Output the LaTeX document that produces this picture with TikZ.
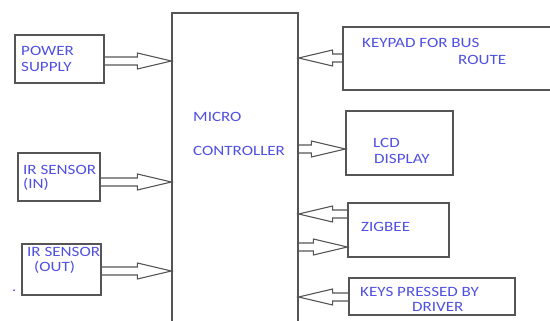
\documentclass[tikz,border=0pt]{standalone}
\usepackage{fontspec}
\setmainfont{Carlito}[FakeStretch=1.2]
\usepackage{tikz}
\usetikzlibrary{calc}
\definecolor{lblblue}{RGB}{80,80,225}
\definecolor{edgegray}{RGB}{85,85,85}
\tikzset{
    blockBox/.style={
        draw=edgegray,
        line width=1.2pt,
        inner sep=0pt
    },
    blockText/.style={
        text=lblblue,
        anchor=base west,
        inner sep=0pt,
        font=\fontsize{14.2}{16}\selectfont
    },
    blockLine/.style={
        draw=edgegray,
        line width=1.1pt,
        line join=miter
    }
}
% hollow block arrow between two points on one level
\newcommand{\blockarr}[2]{%
  \draw[blockLine] let \p1=(#1), \p2=(#2), \n1={sign(\x2-\x1)} in
    (\x1,\y1+4pt) -- ({\x2-34pt*\n1},\y1+4pt) -- ({\x2-34pt*\n1},\y1+8pt)
    -- (\x2,\y1) -- ({\x2-34pt*\n1},\y1-8pt) -- ({\x2-34pt*\n1},\y1-4pt)
    -- (\x1,\y1-4pt);}

\begin{document}
\begin{tikzpicture}[x=1pt, y=-1pt]
    \useasboundingbox (0,0) rectangle (550,321);

    % Blocks
    \node[blockBox, minimum width=126pt, minimum height=314pt] (mc) at (235,170) {};
    \node[blockBox, minimum width=89pt, minimum height=48pt] (ps) at (59.5,59) {};
    \node[blockBox, minimum width=82pt, minimum height=48pt] (irin) at (59,177) {};
    \node[blockBox, minimum width=79pt, minimum height=51pt] (irout) at (61.5,269.5) {};
    \node[blockBox, minimum width=210pt, minimum height=63pt] (kp) at (448,58.5) {};
    \node[blockBox, minimum width=107pt, minimum height=64pt] (lcd) at (399.5,143) {};
    \node[blockBox, minimum width=101pt, minimum height=54pt] (zb) at (398.5,230) {};
    \node[blockBox, minimum width=166pt, minimum height=37pt] (keys) at (432,296.5) {};

    % Labels
    \node[blockText] (mcA) at (193,122) {MICRO};
    \node[blockText] (mcB) at (193,156) {CONTROLLER};
    \node[blockText] (psA) at (21,56) {POWER};
    \node[blockText] (psB) at (21,72) {SUPPLY};
    \node[blockText] (irinA) at (23,175) {IR SENSOR};
    \node[blockText] (irinB) at (23,189) {(IN)};
    \node[blockText] (iroutA) at (27,257) {IR SENSOR};
    \node[blockText] (iroutB) at (34,272) {(OUT)};
    \node[blockText] (dot) at (12,291) {.};
    \node[blockText] (kpA) at (362,48) {KEYPAD FOR BUS};
    \node[blockText] (kpB) at (458,65) {ROUTE};
    \node[blockText] (lcdA) at (373,148) {LCD};
    \node[blockText] (lcdB) at (374,164) {DISPLAY};
    \node[blockText] (zbA) at (361,232) {ZIGBEE};
    \node[blockText] (keysA) at (360,296) {KEYS PRESSED BY};
    \node[blockText] (keysB) at (412,312) {DRIVER};

    % Arrows
    \blockarr{ps.east |- 0,61}{mc.west |- 0,61}
    \blockarr{irin.east |- 0,182}{mc.west |- 0,182}
    \blockarr{irout.east |- 0,271}{mc.west |- 0,271}
    \blockarr{kp.west |- 0,58}{mc.east |- 0,58}
    \blockarr{mc.east |- 0,149}{lcd.west |- 0,149}
    \blockarr{zb.west |- 0,214}{mc.east |- 0,214}
    \blockarr{mc.east |- 0,247}{zb.west |- 0,247}
    \blockarr{keys.west |- 0,297}{mc.east |- 0,297}
\end{tikzpicture}
\end{document}
